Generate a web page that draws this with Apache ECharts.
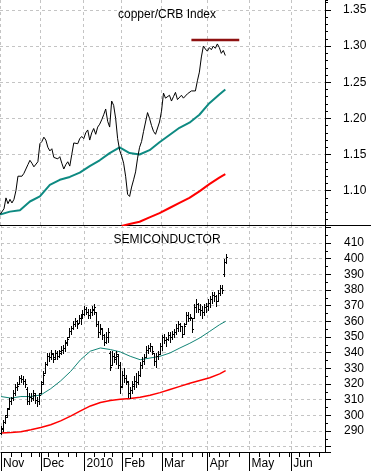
<!DOCTYPE html>
<html>
<head>
<meta charset="utf-8">
<script src="https://cdn.jsdelivr.net/npm/echarts@6/dist/echarts.min.js"></script>
<style>
html,body{margin:0;padding:0;background:#fff;}
#chart{width:371px;height:471px;}
</style>
</head>
<body>
<div id="chart"></div>
<script>
// ---- categories (trading days) ----
const startDate = '2009-11-02';
const dayCount = 164;
const holidays = ['2009-11-26', '2009-12-25', '2010-01-01', '2010-01-18', '2010-04-02'];
const monthLabels = {'2009-11': 'Nov', '2009-12': 'Dec', '2010-01': '2010', '2010-02': 'Feb',
  '2010-03': 'Mar', '2010-04': 'Apr', '2010-05': 'May', '2010-06': 'Jun'};

// ---- copper/CRB ratio (daily closes) ----
const copperCRB = [
  1.067, 1.068, 1.075, 1.090, 1.082, 1.088, 1.083, 1.088, 1.100, 1.120,
  1.122, 1.120, 1.124, 1.130, 1.136, 1.142, 1.138, 1.133, 1.135, 1.140,
  1.165, 1.168, 1.174, 1.170, 1.160, 1.155, 1.158, 1.146, 1.148, 1.144,
  1.147, 1.138, 1.130, 1.136, 1.140, 1.134, 1.150, 1.166, 1.168, 1.165,
  1.172, 1.175, 1.172, 1.180, 1.184, 1.170, 1.180, 1.186, 1.178, 1.188,
  1.192, 1.198, 1.205, 1.213, 1.196, 1.188, 1.224, 1.218, 1.200, 1.172,
  1.156, 1.148, 1.138, 1.120, 1.095, 1.092, 1.105, 1.115, 1.126, 1.145,
  1.160, 1.168, 1.182, 1.195, 1.208, 1.200, 1.190, 1.182, 1.178, 1.180,
  1.195, 1.210, 1.235, 1.228, 1.226, 1.232, 1.224, 1.230, 1.236, 1.226,
  1.224, 1.232, 1.228, 1.230, 1.234, 1.232, 1.238, 1.240, 1.238, 1.252,
  1.264, 1.285, 1.300, 1.296, 1.293, 1.298, 1.295, 1.300, 1.297, 1.303,
  1.298, 1.290, 1.294, 1.287
];

// moving averages, read weekly
const maDates = ['2009-11-02','2009-11-09','2009-11-16','2009-11-23','2009-12-01','2009-12-08',
  '2009-12-15','2009-12-22','2009-12-30','2010-01-07','2010-01-14','2010-01-22','2010-01-29',
  '2010-02-05','2010-02-12','2010-02-19','2010-02-26','2010-03-05','2010-03-12','2010-03-19',
  '2010-03-26','2010-04-05','2010-04-12','2010-04-15'];
const copperMA50 = [1.067,1.071,1.073,1.085,1.092,1.108,1.115,1.119,1.125,1.134,1.142,1.152,1.160,
  1.152,1.150,1.156,1.167,1.177,1.187,1.194,1.205,1.221,1.233,1.240];
const copperMA200Dates = ['2010-02-01','2010-02-05','2010-02-12','2010-02-19','2010-02-26','2010-03-05',
  '2010-03-12','2010-03-19','2010-03-26','2010-04-05','2010-04-12','2010-04-15'];
const copperMA200 = [1.051,1.054,1.057,1.063,1.069,1.076,1.083,1.090,1.099,1.109,1.118,1.123];

// resistance line
const resistLevel = 1.3085;
const resistStart = '2010-03-22';
const resistEnd = '2010-04-26';

// ---- SEMICONDUCTOR daily bars ----
const semiOpen = [
  289,291,296,300,305,309,311,314,318,320, 324,323,322,317,309,312,311,313,310,309,
  314,321,327,333,338,337,339,337,340,338, 340,342,343,346,350,354,356,358,360,359,
  362,363,365,368,366,364,366,367,366,358, 353,355,351,347,350,340,332,338,336,338,
  332,319,326,324,321,314,316,319,322,321, 326,332,335,337,342,343,344,340,335,338,
  339,344,350,348,349,351,350,352,353,356, 358,357,352,358,364,362,362,362,369,371,
  368,367,366,369,370,372,374,377,376,373, 378,381,390,398
];
const semiHigh = [
  293,297,300,305,311,312,316,320,321,325, 326,325,323,318,314,314,316,314,312,314,
  322,328,334,340,340,342,340,342,341,342, 344,345,348,350,356,357,360,362,361,364,
  365,367,370,369,368,368,370,371,366,360, 358,356,352,353,356,341,341,340,341,339,
  334,328,330,326,322,318,322,325,327,328, 334,337,339,344,345,346,344,340,340,341,
  346,351,352,350,353,353,354,355,358,360, 359,357,359,366,366,365,362,371,374,372,
  371,370,371,372,374,376,379,379,377,380, 383,383,400,403
];
const semiLow = [
  288,290,295,299,304,307,310,313,316,320, 321,320,318,307,307,309,310,308,306,307,
  314,320,327,332,335,336,334,336,336,337, 339,340,341,345,350,352,355,357,356,359,
  358,362,364,365,362,362,364,365,357,350, 352,349,345,346,347,329,332,334,333,330,
  314,318,321,320,312,311,314,317,318,320, 325,330,333,337,340,341,339,332,331,336,
  339,342,346,344,348,347,349,350,352,354, 354,350,352,358,360,361,353,362,366,366,
  364,362,364,366,367,369,372,373,370,373, 377,378,389,397
];
const semiClose = [
  292,296,299,304,309,311,314,318,319,324, 323,322,320,309,312,311,314,310,309,313,
  320,326,333,338,337,340,336,340,338,341, 342,343,347,349,354,356,358,360,358,362,
  363,365,368,366,364,366,368,369,358,353, 356,351,347,350,353,331,338,337,339,332,
  318,326,324,322,314,316,320,322,321,326, 332,335,337,342,343,344,341,335,338,339,
  344,350,348,349,351,350,352,353,356,358, 357,352,357,364,362,363,355,369,371,368,
  367,366,369,370,372,374,377,376,373,378, 381,380,398,401
];
const semiMA50 = [312,311,312,312,313,317,322,328,335.5,341,343,342,340.5,337.7,335.5,336.6,337.7,
  339.8,343,346,349.4,353.6,357.9,360];
const semiMA200 = [288.7,289,289.5,290.8,292.2,294,296.5,299.5,302.8,306,308.2,309.5,310.3,310.8,
  311.5,312.8,314.5,316.5,318.5,320.5,322.3,324,326.5,328.5];

// ---- build categories ----
function fmt(d){
  const m = d.getUTCMonth()+1, day = d.getUTCDate();
  return d.getUTCFullYear()+'-'+(m<10?'0':'')+m+'-'+(day<10?'0':'')+day;
}
const dates = [];
{
  const d = new Date(startDate+'T00:00:00Z');
  while (dates.length < dayCount) {
    const wd = d.getUTCDay();
    const s = fmt(d);
    if (wd !== 0 && wd !== 6 && holidays.indexOf(s) < 0) dates.push(s);
    d.setUTCDate(d.getUTCDate()+1);
  }
}
const monthStart = dates.map((d,i)=> i===0 || d.slice(0,7)!==dates[i-1].slice(0,7));
const weekStart = dates.map((d,i)=>{
  if (i===0) return true;
  const a = new Date(d+'T00:00:00Z').getUTCDay();
  const b = new Date(dates[i-1]+'T00:00:00Z').getUTCDay();
  return a < b;
});

const FONT = "'Liberation Sans', Arial, sans-serif";
const gridLine = {show:true, lineStyle:{color:'#c4c4c4', width:1, type:[3,3]}};

const chart = echarts.init(document.getElementById('chart'), null, {renderer:'canvas'});
const option = {
  animation:false,
  backgroundColor:'#ffffff',
  textStyle:{fontFamily:FONT},
  title:[
    {text:'copper/CRB Index', left:162, top:4, textAlign:'center',
     textStyle:{fontSize:12, fontWeight:'normal', color:'#000', fontFamily:FONT}},
    {text:'SEMICONDUCTOR', left:162, top:229, textAlign:'center',
     textStyle:{fontSize:12, fontWeight:'normal', color:'#000', fontFamily:FONT}}
  ],
  grid:[
    {left:0, top:0, width:325, height:225},
    {left:0, top:225, width:325, height:227}
  ],
  xAxis:[
    {gridIndex:0, type:'category', data:dates, boundaryGap:false, position:'bottom',
     axisLine:{show:true, onZero:false, lineStyle:{color:'#000', width:1}},
     axisTick:{show:false}, axisLabel:{show:false},
     splitLine:Object.assign({interval:(i)=>monthStart[i]}, gridLine)},
    {gridIndex:1, type:'category', data:dates, boundaryGap:false, position:'bottom',
     axisLine:{show:true, onZero:false, lineStyle:{color:'#000', width:1}},
     axisTick:{show:true, interval:(i)=>monthStart[i], length:19, lineStyle:{color:'#000'}},
     axisLabel:{interval:(i)=>monthStart[i], align:'left', margin:6, padding:[0,0,0,2],
       color:'#000', fontSize:12, fontFamily:FONT,
       formatter:(v)=>monthLabels[v.slice(0,7)] || ''},
     splitLine:Object.assign({interval:(i)=>monthStart[i]}, gridLine)},
    {gridIndex:1, type:'category', data:dates, boundaryGap:false, position:'bottom',
     axisLine:{show:false, onZero:false},
     axisTick:{show:true, interval:(i)=>weekStart[i], length:5, lineStyle:{color:'#000'}},
     axisLabel:{show:false}, splitLine:{show:false}}
  ],
  yAxis:[
    {gridIndex:0, type:'value', position:'right', min:1.0525, max:1.3638,
     minInterval:0.05, maxInterval:0.05,
     axisLine:{show:true, onZero:false, lineStyle:{color:'#000'}},
     axisTick:{show:true, length:6, lineStyle:{color:'#000'}},
     axisLabel:{margin:18, color:'#000', fontSize:12, fontFamily:FONT,
       showMinLabel:false, showMaxLabel:false, formatter:(v)=>v.toFixed(2)},
     splitLine:{show:true, showMinLine:false, showMaxLine:false, lineStyle:{color:'#c4c4c4', type:[3,3]}}},
    {gridIndex:0, type:'value', position:'right', min:1.0525, max:1.3638,
     minInterval:0.01, maxInterval:0.01,
     axisLine:{show:false}, axisTick:{show:true, length:3, lineStyle:{color:'#000'}},
     axisLabel:{show:false}, splitLine:{show:false}},
    {gridIndex:1, type:'value', position:'right', min:276.6, max:421.5,
     minInterval:10, maxInterval:10,
     axisLine:{show:true, onZero:false, lineStyle:{color:'#000'}},
     axisTick:{show:true, length:6, lineStyle:{color:'#000'}},
     axisLabel:{margin:19, color:'#000', fontSize:12, fontFamily:FONT,
       formatter:(v)=> (v>=290 && v<=410) ? String(Math.round(v)) : ''},
     splitLine:{show:true, showMinLine:false, showMaxLine:false, lineStyle:{color:'#c4c4c4', type:[3,3]}}},
    {gridIndex:1, type:'value', position:'right', min:276.6, max:421.5,
     minInterval:5, maxInterval:5,
     axisLine:{show:false}, axisTick:{show:true, length:3, lineStyle:{color:'#000'}},
     axisLabel:{show:false}, splitLine:{show:false}}
  ],
  graphic:[
    {type:'line', shape:{x1:325, y1:225.5, x2:371, y2:225.5}, style:{stroke:'#000', lineWidth:1}, silent:true}
  ],
  series:[
    {type:'line', name:'copper/CRB', xAxisIndex:0, yAxisIndex:0, data:copperCRB,
     showSymbol:false, lineStyle:{color:'#000', width:1}, z:5},
    {type:'line', name:'copper MA', xAxisIndex:0, yAxisIndex:0,
     data:maDates.map((d,i)=>[d, copperMA50[i]]),
     showSymbol:false, lineStyle:{color:'#0e8a82', width:2}, z:4},
    {type:'line', name:'copper MA200', xAxisIndex:0, yAxisIndex:0,
     data:copperMA200Dates.map((d,i)=>[d, copperMA200[i]]),
     showSymbol:false, lineStyle:{color:'#ff0000', width:2}, z:4},
    {type:'line', name:'resistance', xAxisIndex:0, yAxisIndex:0,
     data:dates.map(d=> (d>=resistStart && d<=resistEnd) ? resistLevel : null),
     showSymbol:false, lineStyle:{color:'#8e1111', width:2.5}, z:4},
    {type:'custom', name:'SEMICONDUCTOR', xAxisIndex:1, yAxisIndex:2,
     data:semiClose.map((c,i)=>[i, semiOpen[i], semiHigh[i], semiLow[i], c]),
     encode:{x:0, y:[1,2,3,4]},
     renderItem:function(params, api){
       const x = api.value(0);
       const pH = api.coord([x, api.value(2)]);
       const pL = api.coord([x, api.value(3)]);
       const pO = api.coord([x, api.value(1)]);
       const pC = api.coord([x, api.value(4)]);
       const cx = Math.round(pH[0]) + 0.5;
       const st = {stroke:'#000', lineWidth:1};
       return {type:'group', children:[
         {type:'line', shape:{x1:cx, y1:Math.round(pH[1]), x2:cx, y2:Math.round(pL[1])+1}, style:st},
         {type:'line', shape:{x1:cx-1.5, y1:Math.round(pO[1])+0.5, x2:cx-0.5, y2:Math.round(pO[1])+0.5}, style:st},
         {type:'line', shape:{x1:cx+0.5, y1:Math.round(pC[1])+0.5, x2:cx+1.5, y2:Math.round(pC[1])+0.5}, style:st}
       ]};
     }, z:5},
    {type:'line', name:'semi MA', xAxisIndex:1, yAxisIndex:2,
     data:maDates.map((d,i)=>[d, semiMA50[i]]),
     showSymbol:false, lineStyle:{color:'#138577', width:1}, z:4},
    {type:'line', name:'semi MA200', xAxisIndex:1, yAxisIndex:2,
     data:maDates.map((d,i)=>[d, semiMA200[i]]),
     showSymbol:false, lineStyle:{color:'#ff0000', width:1.5}, z:4}
  ]
};
chart.setOption(option);
</script>
</body>
</html>
